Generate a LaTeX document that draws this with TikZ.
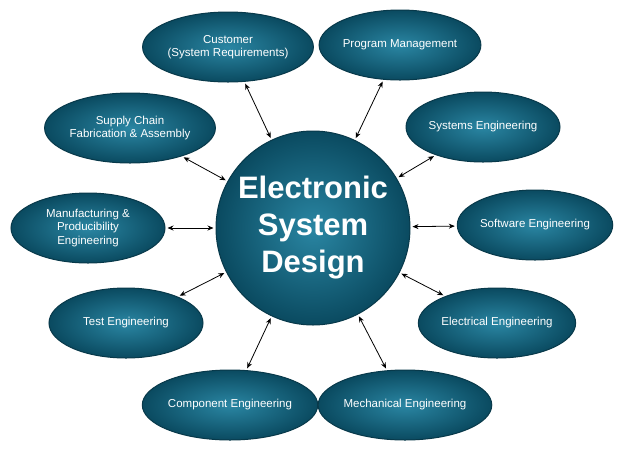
\documentclass[tikz,border=0pt]{standalone}
\usepackage{fontspec}
\setmainfont{Liberation Sans}
\usetikzlibrary{arrows.meta,positioning,shapes.geometric}
\definecolor{tealin}{HTML}{2A86A3}
\definecolor{tealout}{HTML}{0A4A60}
\definecolor{tealedge}{HTML}{08394A}
\begin{document}
\begin{tikzpicture}[x=1pt,y=-1pt]
  \tikzset{AreaStyle/.style = {shape=ellipse, draw=tealedge, line width=1pt,
                               inner color=tealin, outer color=tealout,
                               text=white, align=center, font=\fontsize{11.5}{13.5}\selectfont,
                               minimum width=154pt, minimum height=70pt, inner sep=0pt}}
  \tikzset{CoreStyle/.style = {shape=circle, draw=tealedge, line width=1pt,
                               inner color=tealin, outer color=tealout,
                               text=white, align=center,
                               font=\fontsize{31}{37}\selectfont\bfseries,
                               minimum size=194pt, inner sep=0pt}}
  \tikzset{LinkStyle/.style = {{Stealth[length=6pt,width=5pt]}-{Stealth[length=6pt,width=5pt]},
                               line width=0.8pt, shorten <=2pt, shorten >=2pt}}
  \useasboundingbox (0,0) rectangle (624,451);
  %%% CENTRE %%%
  \node[CoreStyle](core) at (313,228){Electronic\\System\\Design};
  %%% AREAS %%%
  \node[AreaStyle](cust) at (228,47){Customer\\(System Requirements)};
  \node[AreaStyle](prog) at (400,45){Program Management};
  \node[AreaStyle](supp) at (130,128){Supply Chain\\Fabrication \& Assembly};
  \node[AreaStyle](syst) at (483,127){Systems Engineering};
  \node[AreaStyle](manu) at (88,228){Manufacturing \&\\Producibility\\Engineering};
  \node[AreaStyle](soft) at (535,225){Software Engineering};
  \node[AreaStyle](test) at (126,323){Test Engineering};
  \node[AreaStyle](elec) at (497,323){Electrical Engineering};
  \node[AreaStyle](comp) at (230,405){Component Engineering};
  \node[AreaStyle](mech) at (405,405){Mechanical Engineering};
  %%% LINKS %%%
  \foreach \n in {cust,prog,supp,syst,manu,soft,test,elec,comp,mech}
    \draw[LinkStyle](\n) -- (core);
\end{tikzpicture}
\end{document}
